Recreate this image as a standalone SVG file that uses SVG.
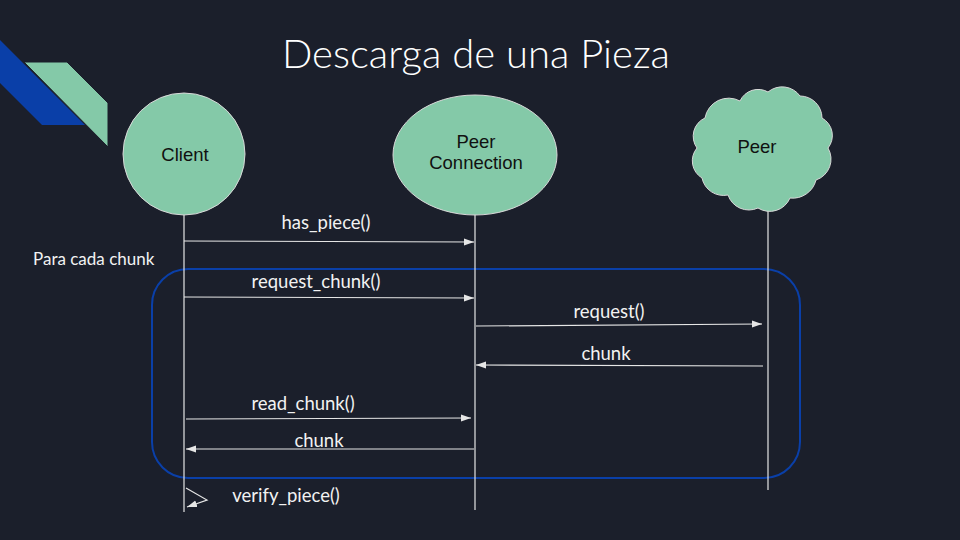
<svg xmlns="http://www.w3.org/2000/svg" width="960" height="540" viewBox="0 0 960 540">
<defs>
<style>
.node{fill:#84c9a8;stroke:#d8d8d8;stroke-width:1}
.ntext{font-family:"Liberation Sans",Arial,sans-serif;font-size:18.5px;fill:#111;text-anchor:middle}
.lbl{font-family:Lato,"Liberation Sans",sans-serif;font-size:18.5px;fill:#f2f2f2;text-anchor:middle}
.life{stroke:#e6e6e6;stroke-width:1.2;fill:none}
.msg{stroke:#e6e6e6;stroke-width:1.2;fill:none;marker-end:url(#ah)}
</style>
<marker id="ah" viewBox="0 0 10 10" refX="10" refY="5" markerWidth="10" markerHeight="10" markerUnits="userSpaceOnUse" orient="auto">
<path d="M0,1.5 L10,5 L0,8.5 z" fill="#e6e6e6"/>
</marker>
</defs>
<rect width="960" height="540" fill="#1b1f2b"/>
<g id="decor">
<polygon points="0,40 85,125 42,125 0,83" fill="#0a3fa8"/>
<polygon points="24,62 67,62 108,103 108,147" fill="#84c9a8" stroke="#1b1f2b" stroke-width="1"/>
</g>
<text x="476" y="68" font-family="Lato,'Liberation Sans',sans-serif" font-size="40" fill="#ffffff" text-anchor="middle" font-weight="300">Descarga de una Pieza</text>
<text x="33" y="265" font-family="Lato,'Liberation Sans',sans-serif" font-size="17" fill="#f2f2f2">Para cada chunk</text>
<rect id="loop" x="152" y="269" width="648" height="209" rx="36" ry="36" fill="none" stroke="#0a3fa8" stroke-width="2"/>
<g id="lifelines">
<line class="life" x1="184" y1="215" x2="184" y2="512"/>
<line class="life" x1="475" y1="215" x2="475" y2="510"/>
<line class="life" x1="768" y1="210" x2="768" y2="490"/>
</g>
<g id="client">
<circle class="node" cx="184" cy="154" r="61"/>
<text class="ntext" x="185" y="161">Client</text>
</g>
<g id="peerconnection">
<ellipse class="node" cx="475" cy="155" rx="82" ry="60"/>
<text class="ntext" x="476" y="148">Peer</text>
<text class="ntext" x="476" y="169">Connection</text>
</g>
<g id="peer">
<path class="node" d="M705,118 A24,24 0 0 1 740,101 A20,20 0 0 1 768,92 A22,22 0 0 1 800,96 A22,22 0 0 1 822,118 A20,20 0 0 1 828,148 A22,22 0 0 1 816,180 A24,24 0 0 1 790,198 A22,22 0 0 1 758,208 A22,22 0 0 1 728,195 A22,22 0 0 1 702,178 A20,20 0 0 1 697,148 A20,20 0 0 1 705,118 Z"/>
<text class="ntext" x="757" y="153">Peer</text>
</g>
<g id="connectors">
<line class="msg" x1="184" y1="241" x2="474" y2="242"/>
<line class="msg" x1="184" y1="297" x2="474" y2="298"/>
<line class="msg" x1="476" y1="326" x2="762" y2="324"/>
<line class="msg" x1="763" y1="366" x2="476" y2="365"/>
<line class="msg" x1="186" y1="419" x2="471" y2="418"/>
<line class="msg" x1="474" y1="449" x2="186" y2="449"/>
<polyline class="msg" points="186,488 207,500 187,507"/>
</g>
<g id="labels">
<text class="lbl" x="326" y="229">has_piece()</text>
<text class="lbl" x="316" y="288">request_chunk()</text>
<text class="lbl" x="609" y="318">request()</text>
<text class="lbl" x="606" y="360">chunk</text>
<text class="lbl" x="303" y="410">read_chunk()</text>
<text class="lbl" x="319" y="447">chunk</text>
<text class="lbl" x="286" y="502">verify_piece()</text>
</g>
</svg>
